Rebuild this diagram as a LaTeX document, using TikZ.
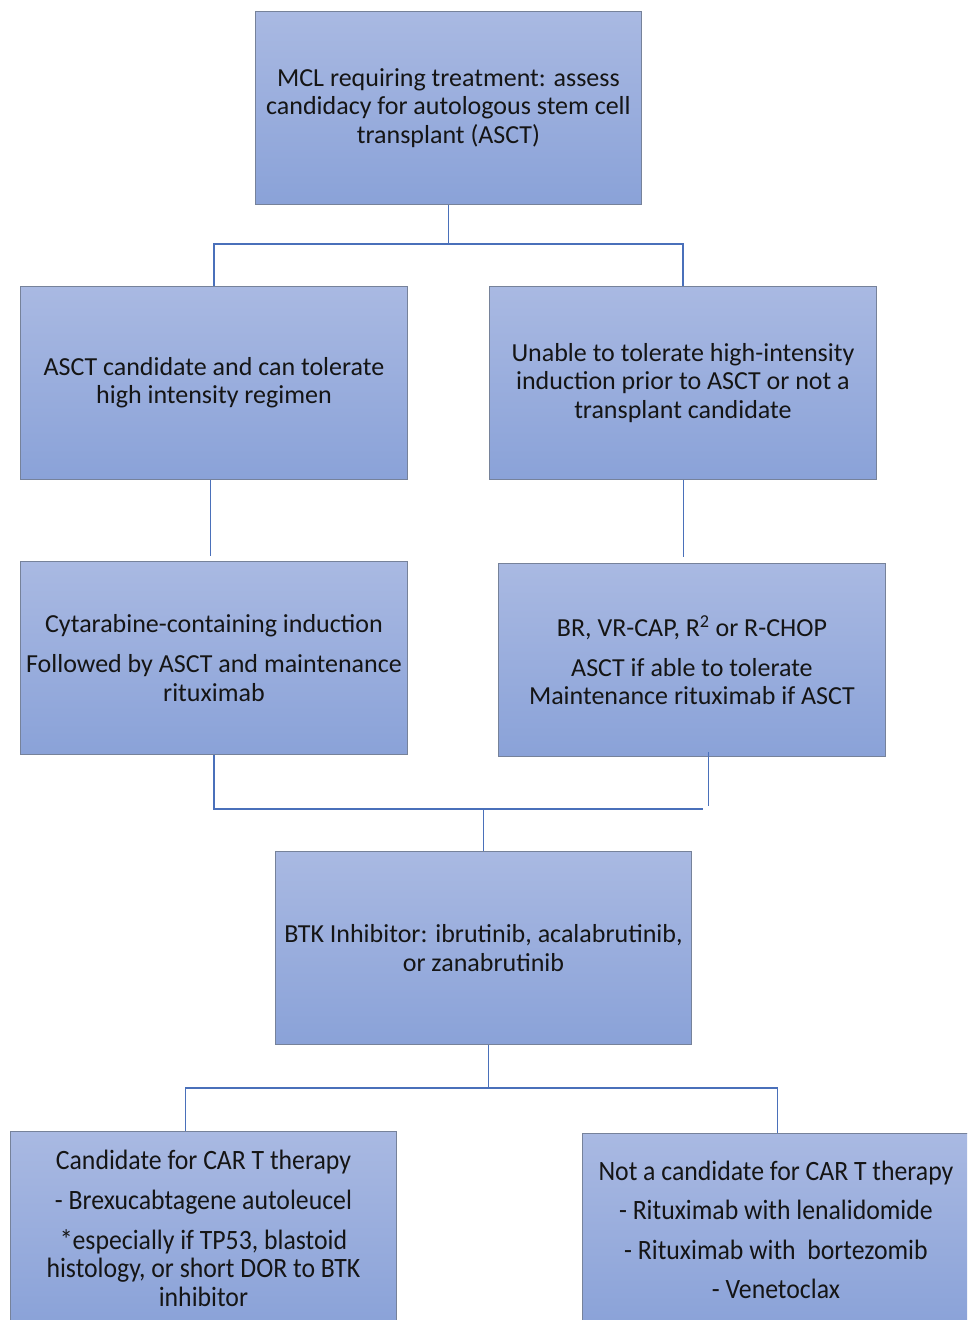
\documentclass[tikz,border=0pt]{standalone}
\usepackage{fontspec}
\setmainfont{Carlito}
\newfontfamily\narrowfont[FakeStretch=0.92]{Carlito}
\definecolor{boxtop}{HTML}{A9B9E2}
\definecolor{boxbot}{HTML}{8AA2D8}
\definecolor{boxedge}{HTML}{76829A}
\definecolor{linkcol}{HTML}{4A70BA}
\definecolor{txt}{HTML}{151515}
\tikzset{
  box/.style={draw=boxedge, line width=0.9pt, top color=boxtop, bottom color=boxbot,
    rectangle, inner sep=0pt, anchor=north west, minimum height=193pt,
    align=center, text=txt, font=\fontsize{26}{28.5}\selectfont},
  narrowbox/.style={box, font=\narrowfont\fontsize{28}{28.5}\selectfont},
  conn/.style={draw=linkcol, line width=1.6pt}
}
\begin{document}
\begin{tikzpicture}[x=1pt,y=-1pt]
\clip (0,0) rectangle (967,1320);
\fill[white] (0,0) rectangle (967,1320);
\node[box, minimum width=386pt] (top) at (255,11)
  {MCL requiring treatment: assess\\candidacy for autologous stem cell\\transplant (ASCT)};
\node[box, minimum width=387pt] (b1) at (20,286)
  {ASCT candidate and can tolerate\\high intensity regimen};
\node[box, minimum width=387pt] (b2) at (489,286)
  {Unable to tolerate high-intensity\\induction prior to ASCT or not a\\transplant candidate};
\node[box, minimum width=387pt] (b3) at (20,561)
  {Cytarabine-containing induction\\[11.5pt]Followed by ASCT and maintenance\\rituximab};
\node[box, minimum width=387pt] (b4) at (498,563)
  {BR, VR-CAP, R\textsuperscript{2} or R-CHOP\\[11.5pt]ASCT if able to tolerate\\Maintenance rituximab if ASCT};
\node[box, minimum width=416pt] (b5) at (275,851)
  {BTK Inhibitor: ibrutinib, acalabrutinib,\\or zanabrutinib};
\node[narrowbox, minimum width=386pt] (b6) at (10,1131)
  {Candidate for CAR T therapy\\[11.5pt]- Brexucabtagene autoleucel\\[11.5pt]*especially if TP53, blastoid\\histology, or short DOR to BTK\\inhibitor};
\node[narrowbox, minimum width=387pt] (b7) at (582,1133)
  {Not a candidate for CAR T therapy\\[11pt]- Rituximab with lenalidomide\\[11pt]- Rituximab with\ \ bortezomib\\[11pt]- Venetoclax};
% connectors
\draw[conn] (top.south) -- ++(0,39) coordinate (j1);
\draw[conn] (j1) -| (b1.north);
\draw[conn] (j1) -| (b2.north);
\draw[conn] ([xshift=-3.5pt]b1.south) -- ([xshift=-3.5pt,yshift=5pt]b3.north);
\draw[conn] ([xshift=0.5pt]b2.south) -- ++(0,77);
\draw[conn] (b5.north) -- ++(0,-42) coordinate (j2);
\draw[conn] (b3.south) |- (j2);
\draw[conn] (j2) -- ++(220,0);
\draw[conn] ([xshift=16.5pt,yshift=5pt]b4.south) -- ++(0,54);
\draw[conn] ([xshift=5pt]b5.south) -- ++(0,43) coordinate (j3);
\draw[conn] (j3) -| ([xshift=-18pt]b6.north);
\draw[conn] (j3) -| ([xshift=1.5pt]b7.north);
\end{tikzpicture}
\end{document}
